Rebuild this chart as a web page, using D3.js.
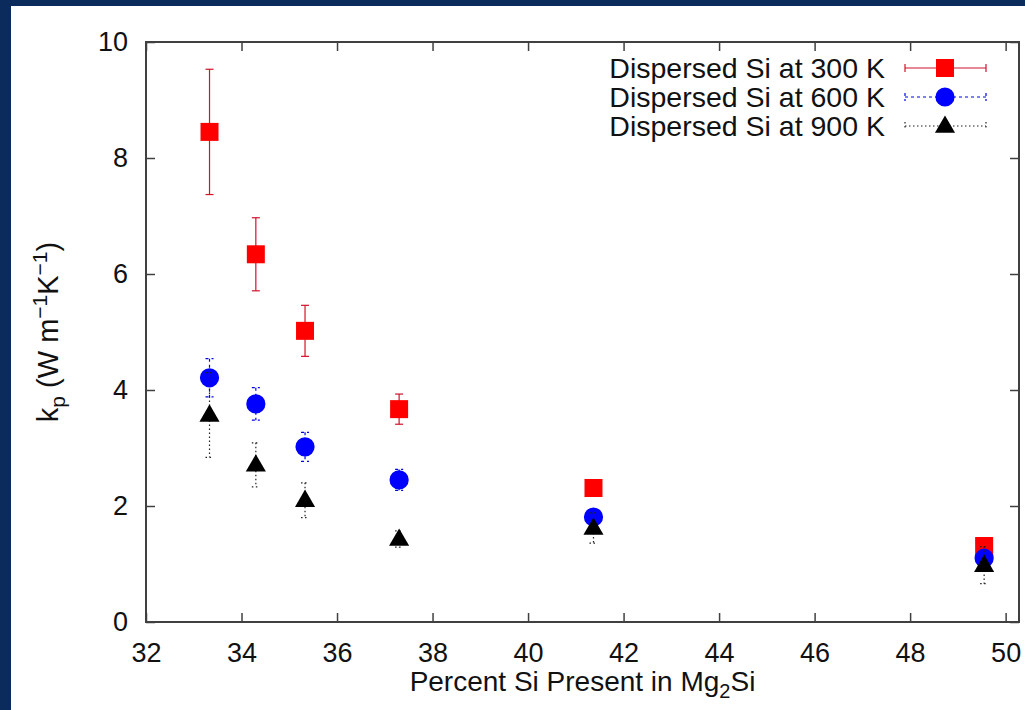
<!DOCTYPE html>
<html>
<head>
<meta charset="utf-8">
<script src="https://cdn.jsdelivr.net/npm/d3@7"></script>
<style>
  html, body { margin: 0; padding: 0; background: #0b2b5c; }
  svg { display: block; }
  text { font-family: "Liberation Sans", Arial, Helvetica, sans-serif; fill: #111; }
</style>
</head>
<body>
<div id="chart"></div>
<script>
// percent Si in Mg2Si (x) for each sample
const siPercent = [33.33, 34.3, 35.33, 37.3, 41.37, 49.55];

// k_p values and +/- errors
const k300 = [8.45, 6.34, 5.02, 3.67, 2.31, 1.31];
const err300 = [1.08, 0.63, 0.44, 0.26, 0.04, 0.04];
const k600 = [4.21, 3.76, 3.02, 2.45, 1.81, 1.10];
const err600 = [0.33, 0.28, 0.25, 0.18, 0.04, 0.04];
const k900 = [3.57, 2.71, 2.10, 1.43, 1.62, 0.98];
const err900 = [0.73, 0.38, 0.30, 0.14, 0.26, 0.32];

const seriesNames = ["Dispersed Si at 300 K", "Dispersed Si at 600 K", "Dispersed Si at 900 K"];
const xTicks = [32, 34, 36, 38, 40, 42, 44, 46, 48, 50];
const yTicks = [0, 2, 4, 6, 8, 10];

const W = 1025, H = 710;
const svg = d3.select("#chart").append("svg")
    .attr("width", W)
    .attr("height", H);

// white page inside the navy frame (navy shows on left and top)
svg.append("rect")
    .attr("x", 11).attr("y", 6)
    .attr("width", W - 11).attr("height", H - 6)
    .attr("fill", "#fff");

const x = d3.scaleLinear().domain([32, 50.28]).range([146, 1019]);
const y = d3.scaleLinear().domain([0, 10]).range([622, 42]);

const series = [
    { name: seriesNames[0], vals: k300, errs: err300, color: "#ff0000", line: "#d4102a", dash: null, shape: "square" },
    { name: seriesNames[1], vals: k600, errs: err600, color: "#0000ff", line: "#0000ee", dash: "3,3", shape: "circle" },
    { name: seriesNames[2], vals: k900, errs: err900, color: "#000000", line: "#222", dash: "1.5,2.5", shape: "triangle" }
];

const symbolFor = {
    square: d3.symbol().type(d3.symbolSquare).size(324),
    circle: d3.symbol().type(d3.symbolCircle).size(290),
    triangle: d3.symbol().type(d3.symbolTriangle).size(175)
};

// axes with inward ticks, mirrored on top and right
const tickLen = 9;
const axisColor = "#404040";

const gx = svg.append("g").attr("transform", `translate(0,${y(0)})`)
    .call(d3.axisBottom(x).tickValues(xTicks).tickSize(-tickLen).tickPadding(21).tickFormat(d3.format("d")));
const gxTop = svg.append("g").attr("transform", `translate(0,${y(10)})`)
    .call(d3.axisTop(x).tickValues(xTicks).tickSize(-tickLen).tickFormat(""));
const gy = svg.append("g").attr("transform", `translate(${x(32)},0)`)
    .call(d3.axisLeft(y).tickValues(yTicks).tickSize(-tickLen).tickPadding(18).tickFormat(d3.format("d")));
const gyRight = svg.append("g").attr("transform", `translate(${x.range()[1]},0)`)
    .call(d3.axisRight(y).tickValues(yTicks).tickSize(-tickLen).tickFormat(""));

[gx, gxTop, gy, gyRight].forEach(g => {
    g.select(".domain").remove();
    g.selectAll(".tick line").attr("stroke", axisColor).attr("stroke-width", 1.5);
    g.selectAll(".tick text").attr("font-size", 27).attr("fill", "#111")
        .style("font-family", "'Liberation Sans', Arial, sans-serif");
});
gx.selectAll(".tick text").attr("dy", "0.71em");

// plot border
svg.append("rect")
    .attr("x", x.range()[0]).attr("y", y(10))
    .attr("width", x.range()[1] - x.range()[0])
    .attr("height", y(0) - y(10))
    .attr("fill", "none")
    .attr("stroke", axisColor)
    .attr("stroke-width", 2);

// error bars then markers, series by series
const capW = 4;
series.forEach(s => {
    const g = svg.append("g");
    s.vals.forEach((v, i) => {
        const cx = x(siPercent[i]);
        const top = y(v + s.errs[i]), bot = y(v - s.errs[i]);
        const eg = g.append("g")
            .attr("stroke", s.line)
            .attr("stroke-width", 1.2)
            .attr("stroke-dasharray", s.dash);
        eg.append("line").attr("x1", cx).attr("x2", cx).attr("y1", top).attr("y2", bot);
        eg.append("line").attr("x1", cx - capW).attr("x2", cx + capW).attr("y1", top).attr("y2", top);
        eg.append("line").attr("x1", cx - capW).attr("x2", cx + capW).attr("y1", bot).attr("y2", bot);
    });
    g.selectAll("path.pt")
        .data(s.vals)
        .join("path")
        .attr("class", "pt")
        .attr("transform", (v, i) => `translate(${x(siPercent[i])},${y(v) + (s.shape === "triangle" ? 1 : 0)})`)
        .attr("d", symbolFor[s.shape]())
        .attr("fill", s.color);
});

// legend, top right
const legend = svg.append("g");
series.forEach((s, i) => {
    const ly = 68 + i * 29;
    legend.append("text")
        .attr("x", 885).attr("y", ly)
        .attr("dy", "0.36em")
        .attr("text-anchor", "end")
        .attr("font-size", 28.5)
        .text(s.name);
    const lg = legend.append("g")
        .attr("stroke", s.line)
        .attr("stroke-width", 1.2)
        .attr("stroke-dasharray", s.dash);
    lg.append("line").attr("x1", 905).attr("x2", 986).attr("y1", ly).attr("y2", ly);
    lg.append("line").attr("x1", 905).attr("x2", 905).attr("y1", ly - 4).attr("y2", ly + 4);
    lg.append("line").attr("x1", 986).attr("x2", 986).attr("y1", ly - 4).attr("y2", ly + 4);
    legend.append("path")
        .attr("transform", `translate(945,${ly + (s.shape === "triangle" ? 1 : 0)})`)
        .attr("d", symbolFor[s.shape]())
        .attr("fill", s.color);
});

// axis labels
const xl = svg.append("text")
    .attr("x", (x.range()[0] + x.range()[1]) / 2)
    .attr("y", 691)
    .attr("text-anchor", "middle")
    .attr("font-size", 28);
xl.append("tspan").text("Percent Si Present in Mg");
xl.append("tspan").attr("font-size", 20).attr("dy", 7).text("2");
xl.append("tspan").attr("dy", -7).text("Si");

const yl = svg.append("text")
    .attr("transform", `translate(58,${(y(0) + y(10)) / 2}) rotate(-90)`)
    .attr("text-anchor", "middle")
    .attr("font-size", 29);
yl.append("tspan").text("k");
yl.append("tspan").attr("font-size", 21).attr("dy", 7).text("p");
yl.append("tspan").attr("dy", -7).text(" (W m");
yl.append("tspan").attr("font-size", 21).attr("dy", -11).text("\u22121");
yl.append("tspan").attr("dy", 11).text("K");
yl.append("tspan").attr("font-size", 21).attr("dy", -11).text("\u22121");
yl.append("tspan").attr("dy", 11).text(")");
</script>
</body>
</html>
